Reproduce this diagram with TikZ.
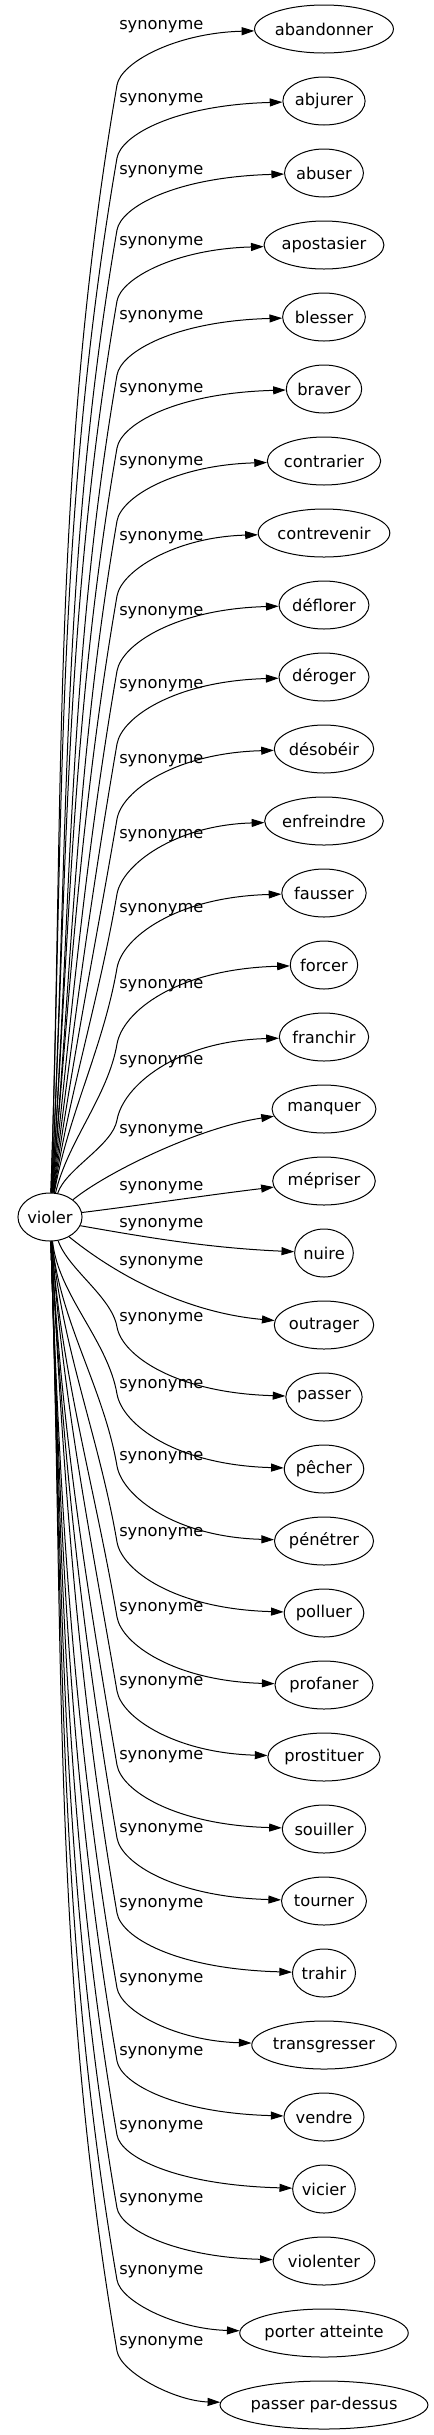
\documentclass[tikz,border=0pt]{standalone}
\usepackage{fontspec}
\setmainfont{DejaVu Sans}
\usepackage{tikz}
\usetikzlibrary
  {
    arrows.meta,              % Triangle arrow heads
    shapes.geometric,         % ellipse nodes
  }

\newlength\wordwd
\newcommand\synfont{\fontsize{12.2}{14.6}\selectfont}

\tikzset{
  word/.style={ellipse, draw, line width=0.75pt, inner xsep=0pt,
    inner ysep=0pt, minimum height=36pt, font=\synfont},
  synlabel/.style={anchor=west, inner sep=0pt, font=\synfont},
  synedge/.style={line width=0.75pt, -{Triangle[length=9.5pt,width=6pt]}},
}

\begin{document}
\begin{tikzpicture}[x=0.75pt, y=0.75pt]
    \useasboundingbox (0,0) rectangle (434,-2435);

    \settowidth{\wordwd}{\synfont violer}
    \node (violer) [word, minimum width=1.13*\wordwd+27pt] at (50,-1217) {violer};

    % the synonyms, one per row
    \foreach \nm/\word [count=\i from 0] in
      {abandonner/abandonner, abjurer/abjurer, abuser/abuser,
       apostasier/apostasier, blesser/blesser, braver/braver,
       contrarier/contrarier, contrevenir/contrevenir, deflorer/déflorer,
       deroger/déroger, desobeir/désobéir, enfreindre/enfreindre,
       fausser/fausser, forcer/forcer, franchir/franchir,
       manquer/manquer, mepriser/mépriser, nuire/nuire,
       outrager/outrager, passer/passer, pecher/pêcher,
       penetrer/pénétrer, polluer/polluer, profaner/profaner,
       prostituer/prostituer, souiller/souiller, tourner/tourner,
       trahir/trahir, transgresser/transgresser, vendre/vendre,
       vicier/vicier, violenter/violenter, porter/porter atteinte,
       pardessus/passer par-dessus}
    {
      \settowidth{\wordwd}{\synfont \word}
      \node (\nm) [word, minimum width=1.13*\wordwd+27pt] at (324,-29-72*\i) {\word};
    }

    % edges going up
    \foreach \nm/\yl/\ang [count=\i from 0] in
      {abandonner/27/88, abjurer/100/88, abuser/172/87, apostasier/243/87,
       blesser/317/86, braver/390/86, contrarier/463/85, contrevenir/538/85,
       deflorer/613/84, deroger/686/83, desobeir/761/82, enfreindre/836/81,
       fausser/910/80, forcer/986/77, franchir/1062/72}
    {
      \pgfmathsetmacro\yb{\yl+58}
      \pgfmathsetmacro\yt{29+72*\i}
      \pgfmathsetmacro\dy{1193-\yb}
      \pgfmathsetmacro\dd{\yb-\yt}
      \node (lab\nm) [synlabel] at (119,-\yl) {synonyme};
      \draw[synedge] (violer.\ang)
        .. controls +({0.35*\dy*cos(\ang)},{0.35*\dy*sin(\ang)}) and +({-0.06*\dy},{-0.35*\dy}) .. (117,-\yb)
        .. controls +({0.07*\dd},{0.4*\dd}) and (175,{-\yt-4}) .. (\nm);
    }

    % edges straight out
    \node (labmanquer) [synlabel] at (119,-1131) {synonyme};
    \node (labmepriser) [synlabel] at (119,-1188) {synonyme};
    \node (labnuire) [synlabel] at (119,-1225) {synonyme};
    \node (laboutrager) [synlabel] at (119,-1263) {synonyme};
    \draw[synedge] (violer.37) .. controls (107,-1172) and (200,-1127) .. (manquer);
    \draw[synedge] (violer.8) .. controls (150,-1204) and (200,-1196) .. (mepriser);
    \draw[synedge] (violer.-16) .. controls (150,-1238) and (210,-1248) .. (nuire);
    \draw[synedge] (violer.-46) .. controls (110,-1270) and (180,-1312) .. (outrager);

    % edges going down
    \foreach \nm/\yl/\ang [count=\i from 19] in
      {passer/1319/-71, pecher/1386/-84, penetrer/1458/-85, polluer/1534/-85,
       profaner/1609/-86, prostituer/1683/-86, souiller/1757/-87,
       tourner/1830/-87, trahir/1905/-87, transgresser/1980/-88,
       vendre/2053/-88, vicier/2127/-88, violenter/2200/-88,
       porter/2272/-88, pardessus/2343/-88}
    {
      \pgfmathsetmacro\yb{\yl+8}
      \pgfmathsetmacro\yt{29+72*\i}
      \pgfmathsetmacro\dy{\yb-1241}
      \pgfmathsetmacro\dd{\yt-\yb}
      \node (lab\nm) [synlabel] at (119,-\yl) {synonyme};
      \draw[synedge] (violer.\ang)
        .. controls +({0.35*\dy*cos(\ang)},{-0.35*\dy*sin(-\ang)}) and +({-0.06*\dy},{0.35*\dy}) .. (117,-\yb)
        .. controls +({0.07*\dd},{-0.4*\dd}) and (175,{-\yt+4}) .. (\nm);
    }
\end{tikzpicture}
\end{document}
